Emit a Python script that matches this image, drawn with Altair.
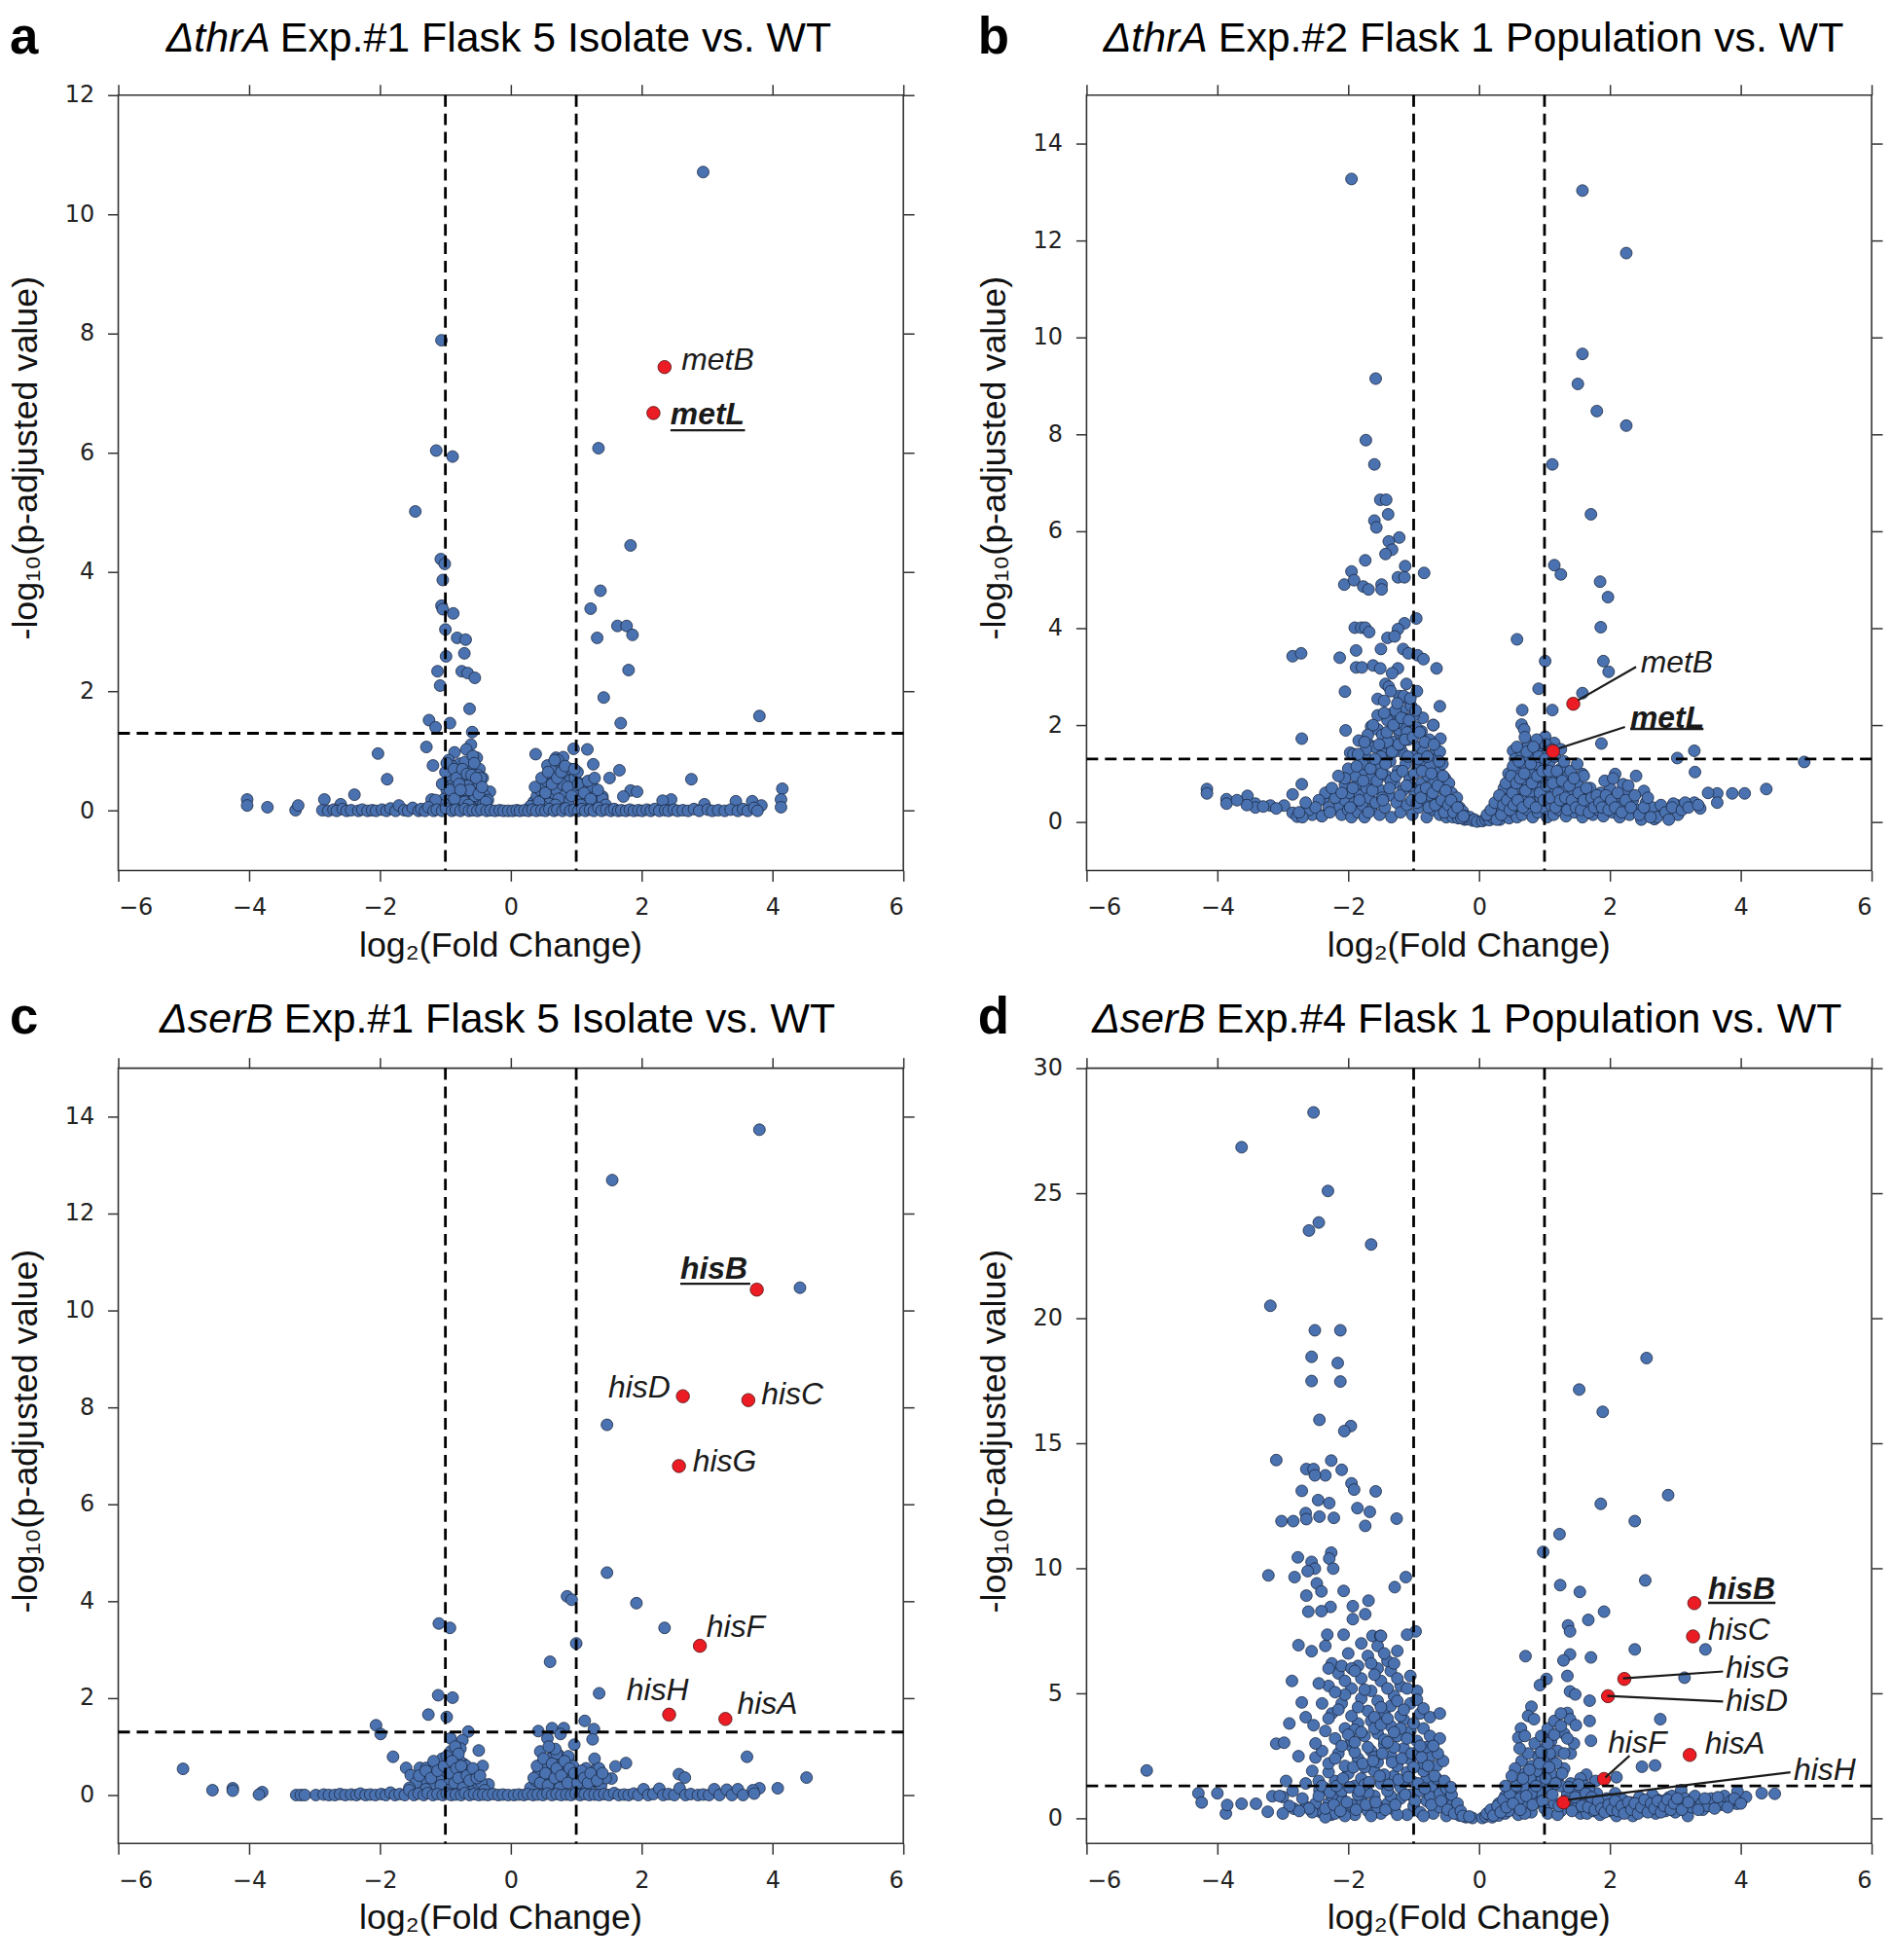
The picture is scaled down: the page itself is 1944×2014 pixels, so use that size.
import altair as alt
import pandas as pd

BLUE = "#4a72b0"
RED = "#ec1c24"
W, H = 810, 800
X_TICKS = [-6, -4, -2, 0, 2, 4, 6]

# ---------------- panel a ----------------
a_blue = [(2.94,10.71),(-1.06,7.89),(-1.14,6.04),(-0.89,5.94),(1.34,6.08),(-1.46,5.02),(1.83,4.45),(-1.07,4.22),(-1.01,4.14),(-1.04,3.87),(1.37,3.69),(-1.06,3.44),(-1.04,3.38),(1.22,3.39),(-0.88,3.31),(1.63,3.10),(1.77,3.10),(1.86,2.95),(-1.0,3.04),(-0.82,2.90),(-0.69,2.87),(1.32,2.90),(-0.99,2.59),(-0.71,2.64),(-1.12,2.34),(-0.75,2.34),(-0.66,2.31),(-0.55,2.23),(1.80,2.36),(-1.08,2.10),(1.42,1.90),(-0.63,1.71),(-1.25,1.52),(-1.15,1.40),(-0.93,1.47),(1.68,1.47),(3.80,1.59),(-0.59,1.32),(-0.61,1.11),(-1.29,1.07),(-2.03,0.96),(-0.68,1.03),(-0.86,0.98),(-0.52,0.89),(0.38,0.95),(0.96,1.04),(1.17,1.03),(0.69,0.89),(0.56,0.76),(0.76,0.72),(1.26,0.78),(-1.19,0.76),(-0.78,0.79),(-0.48,0.70),(1.66,0.68),(0.85,0.58),(0.60,0.54),(1.51,0.55),(-1.89,0.53),(2.76,0.53),(-0.43,0.55),(-0.93,0.50),(-0.73,0.60),(-0.71,0.40),(-0.57,0.45),(-0.32,0.32),(4.15,0.37),(4.13,0.19),(4.13,0.06),(-4.03,0.19),(-4.03,0.09),(-3.72,0.06),(-3.29,0.01),(-3.25,0.09),(-2.85,0.19),(-2.39,0.27),(-2.60,0.11),(3.69,0.16),(3.44,0.16),(2.45,0.19),(1.83,0.34),(1.93,0.32),(1.72,0.24),(1.33,0.28),(1.05,0.40),(1.40,0.24),(2.32,0.17),(-1.21,0.19),(2.96,0.11),(3.83,0.09)]
a_cluster = [(-0.95,0.85),(-0.9,0.75),(-0.82,0.65),(-0.78,0.6),(-0.7,0.55),(-0.62,0.5),(-0.55,0.45),(-0.5,0.38),(-0.45,0.3),(-0.4,0.25),(-0.35,0.18),(-0.88,0.5),(-0.85,0.4),(-0.8,0.3),(-0.75,0.25),(-0.68,0.2),(-0.6,0.15),(-0.52,0.1),(-0.96,0.6),(-0.98,0.35),(-1.02,0.2),(-0.92,0.12),(-0.84,0.08),(-0.72,0.35),(-0.66,0.42),(-0.58,0.3),(-0.48,0.2),(-0.42,0.12),(-0.64,0.7),(-0.7,0.82),(-0.58,0.92),(-0.56,0.8),(-1.08,0.1),(-1.15,0.18),(-0.76,0.15),(-0.9,0.25),(-0.62,0.08),(-0.55,0.25),(-0.5,0.6),(-0.46,0.55),
(0.35,0.15),(0.4,0.25),(0.45,0.35),(0.5,0.45),(0.55,0.5),(0.62,0.6),(0.68,0.7),(0.75,0.8),(0.8,0.9),(0.72,0.85),(0.85,0.6),(0.9,0.5),(0.95,0.4),(1.0,0.3),(1.05,0.25),(1.1,0.2),(1.15,0.15),(1.2,0.35),(1.25,0.4),(1.3,0.25),(0.6,0.3),(0.65,0.2),(0.7,0.35),(0.78,0.45),(0.82,0.25),(0.88,0.15),(0.52,0.2),(0.58,0.12),(0.48,0.08),(0.92,0.7),(0.98,0.55),(1.02,0.65),(0.66,0.5),(0.74,0.1),(1.08,0.45),(1.35,0.12),(1.4,0.2),(1.45,0.1),(0.3,0.08),(0.42,0.05)]
a_cluster2 = [(-1.05,0.45),(-1.0,0.65),(-0.98,0.8),(-0.93,0.35),(-0.87,0.7),(-0.83,0.55),(-0.79,0.45),(-0.74,0.7),(-0.71,0.15),(-0.67,0.62),(-0.63,0.35),(-0.6,0.6),(-0.53,0.55),(-0.49,0.28),(-0.44,0.4),(-0.38,0.15),(-0.86,0.2),(-0.77,0.35),(-0.65,0.1),
(0.37,0.4),(0.43,0.15),(0.47,0.55),(0.53,0.3),(0.57,0.65),(0.63,0.45),(0.67,0.85),(0.71,0.55),(0.77,0.65),(0.83,0.75),(0.87,0.4),(0.93,0.25),(0.97,0.7),(1.03,0.45),(1.07,0.1),(1.12,0.3),(1.18,0.5),(1.22,0.2),(1.28,0.55),(1.33,0.35),(0.73,0.2),(0.68,0.1)]
a_base = [(-2.88,0.01),(-2.79,0.0),(-2.71,0.02),(-2.66,0.0),(-2.57,0.03),(-2.51,0.0),(-2.44,0.01),(-2.33,0.0),(-2.27,0.02),(-2.19,0.0),(-2.12,0.01),(-2.06,0.0),(-1.97,0.02),(-1.9,0.0),(-1.84,0.04),(-1.76,0.0),(-1.71,0.09),(-1.63,0.01),(-1.57,0.0),(-1.5,0.05),(-1.41,0.0),(-1.37,0.03),(-1.31,0.0),(-1.26,0.06),(-1.18,0.0),(-1.13,0.02),(-1.05,0.0),(-0.99,0.04),(-0.9,0.0),(-0.84,0.02),(-0.77,0.0),(-0.7,0.03),(-0.64,0.0),(-0.58,0.01),(-0.51,0.0),(-0.45,0.02),(-0.37,0.0),(-0.31,0.01),(-0.24,0.0),(-0.17,0.01),(-0.11,0.0),(-0.04,0.0),(0.03,0.0),(0.09,0.01),(0.14,0.0),(0.21,0.01),(0.27,0.0),(0.33,0.02),(0.39,0.0),(0.47,0.01),(0.53,0.0),(0.59,0.03),(0.66,0.0),(0.71,0.02),(0.79,0.0),(0.84,0.04),(0.91,0.0),(0.97,0.02),(1.03,0.0),(1.09,0.03),(1.14,0.0),(1.21,0.02),(1.27,0.0),(1.34,0.05),(1.39,0.0),(1.46,0.02),(1.53,0.0),(1.58,0.03),(1.64,0.0),(1.69,0.01),(1.76,0.0),(1.82,0.02),(1.88,0.0),(1.95,0.01),(2.01,0.0),(2.08,0.02),(2.14,0.0),(2.2,0.03),(2.27,0.0),(2.36,0.01),(2.41,0.0),(2.49,0.02),(2.55,0.0),(2.63,0.01),(2.71,0.0),(2.8,0.03),(2.88,0.0),(3.01,0.02),(3.08,0.0),(3.17,0.01),(3.27,0.0),(3.36,0.02),(3.47,0.0),(3.55,0.03),(3.62,0.0),(3.72,0.05),(3.77,0.0)]
a_red = [(2.35,7.44),(2.18,6.67)]
a_labels = [("metB",2.61,7.56,False),("metL",2.44,6.65,True)]
a_under = [(2.44,3.58,6.38)]
a_leaders = []

# ---------------- panel b ----------------
b_blue = [(-1.95,13.27),(1.58,13.03),(2.25,11.74),(1.58,9.66),(-1.58,9.15),(1.51,9.04),(1.80,8.48),(2.25,8.18),(-1.73,7.88),(-1.60,7.38),(1.12,7.38),(-1.51,6.65),(-1.42,6.65),(-1.39,6.35),(1.71,6.35),(-1.60,6.22),(-1.57,6.08),(-1.22,5.87),(-1.38,5.79),(-1.33,5.62),(-1.43,5.53),(-1.74,5.40),(-1.13,5.28),(1.15,5.30),(-0.84,5.14),(1.25,5.11),(-1.95,5.17),(-1.24,5.05),(-1.14,5.05),(-2.06,4.90),(-1.91,4.99),(-1.49,4.90),(-1.77,4.86),(-1.69,4.80),(-1.49,4.80),(1.85,4.96),(1.97,4.64),(-0.96,4.20),(-1.14,4.10),(-1.90,4.01),(-1.80,4.01),(-1.74,4.01),(-1.68,3.92),(-1.24,3.98),(1.86,4.02),(-1.40,3.80),(-1.29,3.83),(0.58,3.77),(-2.85,3.42),(-2.72,3.48),(-2.13,3.39),(-1.88,3.54),(-1.50,3.57),(-1.16,3.57),(-1.08,3.48),(-0.94,3.44),(-0.85,3.36),(-1.88,3.19),(-1.79,3.19),(-1.62,3.23),(-1.51,3.17),(-1.24,3.17),(-1.33,3.07),(-0.65,3.17),(1.01,3.32),(1.90,3.32),(1.98,3.10),(-1.43,2.85),(-1.38,2.79),(-1.11,2.85),(0.91,2.75),(-2.05,2.69),(1.58,2.66),(-1.55,2.54),(-1.22,2.60),(-1.07,2.50),(-0.60,2.39),(0.66,2.31),(1.12,2.31),(-1.18,2.29),(-1.36,2.22),(-1.29,2.12),(-1.13,2.12),(0.65,2.01),(0.69,1.91),(-0.70,2.00),(-1.65,1.97),(-1.55,1.91),(-2.04,1.89),(-1.04,1.87),(-0.88,1.87),(-1.22,1.85),(1.01,1.76),(-0.59,1.72),(-2.71,1.72),(-1.84,1.68),(1.87,1.62),(1.15,1.63),(0.72,1.53),(-1.40,1.60),(-1.68,1.60),(-1.97,1.43),(0.52,1.47),(3.03,1.32),(3.29,1.47),(3.30,1.03),(4.97,1.24),(2.08,0.99),(2.20,0.78),(1.58,0.99),(-1.92,1.06),(-2.05,0.78),(-2.71,0.78),(-4.16,0.68),(-4.16,0.59),(-3.86,0.47),(-3.86,0.38),(-3.54,0.54),(-3.42,0.38),(-3.42,0.30),(-3.19,0.34),(-2.98,0.34),(-2.85,0.57),(-2.85,0.19),(-2.78,0.11),(-2.68,0.21),(-2.41,0.13),(-2.28,0.64),(-2.38,0.47),(-2.13,0.34),(2.52,0.64),(3.64,0.59),(3.87,0.59),(4.06,0.59),(4.39,0.68),(3.64,0.40),(3.38,0.28),(3.29,0.40),(3.04,0.34),(3.04,0.15),(2.68,0.06),(2.81,0.28),(2.97,0.38)]
b_cluster = [(-2.15,0.3),(-2.1,0.15),(-2.05,0.45),(-2.0,0.25),(-1.98,0.6),(-1.95,0.1),(-1.9,0.4),(-1.88,0.75),(-1.85,0.2),(-1.82,0.55),(-1.8,1.0),(-1.78,0.35),(-1.75,0.1),(-1.72,0.7),(-1.7,1.3),(-1.68,0.5),(-1.65,0.25),(-1.62,0.9),(-1.6,1.55),(-1.58,0.4),(-1.55,1.15),(-1.52,0.15),(-1.5,0.65),(-1.48,1.8),(-1.46,1.4),(-1.44,0.3),(-1.42,0.95),(-1.4,2.1),(-1.38,0.55),(-1.36,1.25),(-1.34,0.1),(-1.32,1.65),(-1.3,0.8),(-1.28,2.3),(-1.26,0.4),(-1.24,1.05),(-1.22,1.9),(-1.2,0.2),(-1.18,1.45),(-1.16,0.65),(-1.14,2.0),(-1.12,1.2),(-1.1,0.35),(-1.08,1.7),(-1.06,0.9),(-1.04,2.4),(-1.02,0.15),(-1.0,1.35),(-0.98,0.6),(-0.96,1.95),(-0.94,1.1),(-0.92,0.3),(-0.9,1.55),(-0.88,0.8),(-0.86,2.15),(-0.84,0.45),(-0.82,1.25),(-0.8,0.1),(-0.78,0.95),(-0.76,1.7),(-0.74,0.55),(-0.72,1.3),(-0.7,0.25),(-0.68,0.85),(-0.66,1.5),(-0.64,0.4),(-0.62,1.05),(-0.6,0.15),(-0.58,0.7),(-0.56,1.2),(-0.54,0.35),(-0.52,0.9),(-0.5,0.1),(-0.48,0.55),(-0.46,0.8),(-0.44,0.25),(-0.42,0.6),(-0.4,0.1),(-0.38,0.4),(-0.36,0.2),(-0.34,0.5),(-0.32,0.08),(-0.3,0.3),(-0.28,0.15),(-0.25,0.22),(-0.22,0.05),(-0.2,0.12),(-0.17,0.06),(-0.14,0.1),(-0.1,0.03),(-0.07,0.05),(-0.03,0.01),
(-1.55,2.2),(-1.45,2.5),(-1.35,2.7),(-1.25,2.05),(-1.15,2.6),(-1.0,2.2),(-0.95,2.7),(-1.3,1.45),(-1.7,1.8),(-1.62,2.0),(-1.48,0.5),(-1.78,1.2),(-1.9,0.95),(-2.0,1.1),(-2.2,0.5),(-2.3,0.3),(-2.35,0.6),(-2.45,0.45),(-2.25,0.7),(-1.92,1.4),(-1.2,1.6),(-1.1,1.85),(-0.75,1.15),(-0.7,2.0),(-0.6,1.45),(-0.85,1.45),(-0.9,0.65),(-1.05,0.75),(-1.35,0.85),(-1.5,1.35),(-1.65,0.9),(-1.4,1.65),
(-2.55,0.15),(-2.6,0.25),(-2.7,0.1),(-2.75,0.2),(-2.5,0.3),(-2.4,0.12),(-2.28,0.2),(-2.65,0.4),(-3.1,0.28),(-3.3,0.32),(-3.55,0.35),(-3.7,0.45),
(0.05,0.02),(0.1,0.05),(0.13,0.1),(0.16,0.04),(0.2,0.15),(0.22,0.08),(0.25,0.22),(0.28,0.12),(0.3,0.35),(0.32,0.05),(0.35,0.25),(0.38,0.45),(0.4,0.15),(0.42,0.6),(0.44,0.3),(0.46,0.08),(0.48,0.75),(0.5,0.4),(0.52,0.2),(0.54,0.9),(0.56,0.55),(0.58,0.1),(0.6,1.05),(0.62,0.35),(0.64,0.7),(0.66,0.15),(0.68,1.2),(0.7,0.5),(0.72,0.85),(0.74,0.25),(0.76,1.35),(0.78,0.6),(0.8,1.0),(0.82,0.1),(0.84,0.4),(0.86,1.5),(0.88,0.75),(0.9,0.2),(0.92,1.15),(0.94,0.5),(0.96,1.4),(0.98,0.3),(1.0,0.9),(1.02,1.6),(1.04,0.1),(1.06,0.65),(1.08,1.25),(1.1,0.35),(1.12,0.95),(1.14,0.15),(1.16,1.35),(1.18,0.55),(1.2,0.8),(1.22,0.25),(1.25,1.1),(1.28,0.45),(1.3,0.7),(1.33,0.12),(1.36,0.95),(1.4,0.35),(1.43,0.6),(1.46,0.2),(1.5,0.8),(1.54,0.4),(1.58,0.1),(1.62,0.55),(1.66,0.3),(1.7,0.7),(1.74,0.15),(1.78,0.45),
(0.55,1.3),(0.65,1.45),(0.75,1.6),(0.85,1.2),(0.95,0.7),(1.05,1.45),(1.15,0.7),(1.25,1.5),(0.45,1.0),(0.58,1.55),(0.7,1.75),(0.88,1.7),(1.3,1.25),(1.4,1.05),(1.5,1.2),(1.6,0.95),(0.38,0.7),(0.52,1.15),
(1.82,0.25),(1.86,0.6),(1.9,0.12),(1.95,0.4),(2.0,0.7),(2.04,0.2),(2.1,0.5),(2.15,0.1),(2.2,0.35),(2.25,0.6),(2.3,0.15),(2.35,0.45),(2.42,0.25),(2.48,0.05),(2.55,0.4),(2.6,0.2),(2.65,0.3),(2.72,0.1),(2.78,0.35),(2.85,0.2),(2.9,0.05),(2.95,0.3),(3.1,0.25),(3.15,0.4),(3.2,0.3),(3.35,0.35),(3.5,0.6),(1.92,0.85),(2.05,0.9),(2.28,0.75),(2.4,0.95)]
b_cluster2 = [(-2.1,0.6),(-2.05,0.9),(-1.97,0.3),(-1.93,0.7),(-1.87,1.15),(-1.83,0.45),(-1.77,0.85),(-1.73,1.5),(-1.69,0.2),(-1.66,1.1),(-1.63,0.65),(-1.59,1.3),(-1.56,0.85),(-1.53,1.6),(-1.49,1.0),(-1.47,0.45),(-1.43,1.2),(-1.41,1.85),(-1.37,0.7),(-1.33,1.45),(-1.31,2.0),(-1.27,0.95),(-1.23,1.6),(-1.21,0.55),(-1.19,2.15),(-1.17,1.05),(-1.13,1.7),(-1.11,0.75),(-1.09,1.35),(-1.07,2.1),(-1.03,0.45),(-1.01,1.75),(-0.99,1.0),(-0.97,2.3),(-0.95,0.4),(-0.93,1.3),(-0.91,1.85),(-0.89,0.5),(-0.87,1.05),(-0.83,1.65),(-0.81,0.7),(-0.79,1.35),(-0.77,0.3),(-0.73,1.0),(-0.71,0.6),(-0.69,1.6),(-0.67,0.35),(-0.63,0.75),(-0.61,1.25),(-0.57,0.45),(-0.55,0.95),(-0.53,0.2),(-0.51,0.65),(-0.47,0.35),(-0.43,0.45),(-0.39,0.2),(-0.33,0.3),(-0.27,0.08),(-0.24,0.12),(-1.45,2.25),(-1.25,2.45),(-1.05,2.55),(-1.75,1.65),(-1.85,1.4),(-2.15,0.95),
(0.12,0.15),(0.18,0.25),(0.24,0.4),(0.27,0.05),(0.31,0.55),(0.34,0.15),(0.37,0.35),(0.41,0.8),(0.43,0.45),(0.47,0.25),(0.49,0.95),(0.51,0.6),(0.53,0.35),(0.57,0.8),(0.59,0.45),(0.61,1.25),(0.63,0.9),(0.67,0.3),(0.69,1.0),(0.71,0.65),(0.73,1.45),(0.77,0.4),(0.79,1.2),(0.81,0.8),(0.83,1.55),(0.87,0.3),(0.89,0.95),(0.91,1.35),(0.93,0.6),(0.97,1.05),(0.99,0.45),(1.01,1.3),(1.03,0.75),(1.07,1.05),(1.09,0.5),(1.11,1.5),(1.13,0.8),(1.17,0.3),(1.19,1.05),(1.21,0.6),(1.24,0.45),(1.27,0.85),(1.32,0.5),(1.35,0.25),(1.38,0.75),(1.42,0.45),(1.45,0.9),(1.48,0.3),(1.52,0.6),(1.56,0.25),(1.6,0.45),(1.64,0.7),(1.68,0.2),(1.72,0.5),(1.76,0.3),(1.8,0.55),(1.84,0.4),(1.88,0.3),(1.94,0.55),(1.98,0.25),(2.02,0.45),(2.08,0.3),(2.12,0.6),(2.18,0.2),(2.24,0.45),(2.32,0.3),(2.38,0.55),(2.45,0.15),(2.52,0.3),(2.58,0.5),(2.62,0.1)]
b_red = [(1.44,2.44),(1.13,1.46)]
b_labels = [("metB",2.47,3.28,False),("metL",2.31,2.15,True)]
b_under = [(2.31,3.43,1.92)]
b_leaders = [(1.51,2.51,2.40,3.20),(1.22,1.52,2.23,1.96)]

# ---------------- panel c ----------------
c_blue = [(3.80,13.73),(1.55,12.69),(4.42,10.47),(1.47,7.64),(1.47,4.59),(0.86,4.10),(0.93,4.03),(1.92,3.96),(-1.10,3.54),(-0.93,3.45),(2.35,3.45),(1.00,3.13),(0.60,2.75),(1.35,2.10),(-1.11,2.06),(-0.89,2.01),(-1.26,1.66),(-0.98,1.61),(1.13,1.53),(-2.06,1.44),(-1.99,1.26),(0.42,1.32),(0.63,1.38),(0.81,1.38),(1.27,1.36),(-0.65,1.31),(-0.92,1.17),(0.56,1.17),(0.76,1.26),(0.97,1.04),(1.25,1.15),(-0.74,1.13),(-0.77,0.96),(-0.49,0.92),(-1.80,0.79),(0.64,0.79),(0.73,0.83),(0.88,0.76),(3.61,0.79),(1.76,0.66),(1.60,0.59),(1.31,0.54),(0.42,0.60),(-5.01,0.54),(-1.60,0.56),(-1.39,0.56),(-1.29,0.56),(-1.16,0.56),(-0.98,0.60),(-0.72,0.64),(-0.43,0.60),(4.52,0.36),(2.57,0.43),(2.66,0.36),(4.08,0.14),(3.80,0.14),(-4.56,0.10),(-4.25,0.14),(-4.25,0.09),(-3.80,0.06),(-3.85,0.01),(-3.28,0.0),(-3.21,0.0),(-1.53,0.41),(-1.30,0.28),(-1.07,0.41),(-0.57,0.34),(-0.34,0.22),(0.49,0.41),(1.04,0.34),(1.54,0.34),(1.31,0.28)]
c_cluster = [(-1.35,0.3),(-1.25,0.45),(-1.2,0.2),(-1.15,0.6),(-1.1,0.35),(-1.05,0.75),(-1.0,0.5),(-0.95,0.25),(-0.92,0.9),(-0.88,0.6),(-0.85,0.4),(-0.82,0.15),(-0.78,0.7),(-0.75,0.5),(-0.72,0.3),(-0.68,0.6),(-0.65,0.2),(-0.6,0.45),(-0.55,0.3),(-0.5,0.15),(-0.45,0.25),(-0.4,0.1),(-0.97,0.1),(-1.3,0.12),(-0.62,0.08),(-0.85,1.0),(-0.8,0.85),(-0.7,0.35),(-1.45,0.25),(-1.55,0.15),
(0.3,0.15),(0.38,0.3),(0.42,0.45),(0.48,0.2),(0.52,0.6),(0.55,0.35),(0.6,0.75),(0.62,0.1),(0.65,0.5),(0.7,0.85),(0.72,0.3),(0.78,0.6),(0.8,0.2),(0.85,0.45),(0.88,0.8),(0.92,0.3),(0.95,0.6),(1.0,0.15),(1.05,0.4),(1.1,0.25),(1.15,0.55),(1.2,0.1),(1.25,0.3),(1.3,0.45),(1.38,0.2),(1.45,0.35),(0.45,0.9),(0.68,0.95),(0.58,1.0),(1.28,0.75),(1.35,0.55)]
c_cluster2 = [(-1.4,0.4),(-1.3,0.5),(-1.22,0.35),(-1.18,0.7),(-1.12,0.5),(-1.07,0.2),(-1.02,0.6),(-0.98,0.8),(-0.93,0.45),(-0.9,0.7),(-0.86,0.25),(-0.83,0.55),(-0.8,0.35),(-0.76,0.6),(-0.73,0.15),(-0.67,0.4),(-0.63,0.3),(-0.58,0.55),(-0.52,0.35),(-0.47,0.4),
(0.35,0.35),(0.4,0.6),(0.45,0.25),(0.5,0.75),(0.53,0.45),(0.57,0.2),(0.63,0.65),(0.67,0.35),(0.7,0.55),(0.75,0.15),(0.77,0.4),(0.82,0.7),(0.87,0.25),(0.9,0.55),(0.97,0.45),(1.02,0.25),(1.08,0.5),(1.12,0.35),(1.18,0.25),(1.22,0.45),(1.32,0.3),(1.4,0.45)]
c_base = [(-3.15,0.0),(-2.98,0.0),(-2.86,0.01),(-2.78,0.0),(-2.69,0.0),(-2.61,0.02),(-2.53,0.0),(-2.44,0.01),(-2.36,0.0),(-2.3,0.03),(-2.22,0.0),(-2.15,0.01),(-2.07,0.0),(-1.98,0.02),(-1.91,0.0),(-1.84,0.05),(-1.77,0.0),(-1.7,0.02),(-1.62,0.0),(-1.55,0.1),(-1.48,0.0),(-1.41,0.03),(-1.33,0.0),(-1.27,0.04),(-1.19,0.0),(-1.12,0.02),(-1.04,0.0),(-0.98,0.03),(-0.91,0.0),(-0.84,0.01),(-0.76,0.0),(-0.7,0.04),(-0.63,0.0),(-0.56,0.02),(-0.49,0.0),(-0.42,0.01),(-0.35,0.0),(-0.27,0.02),(-0.19,0.0),(-0.12,0.01),(-0.04,0.0),(0.05,0.0),(0.12,0.01),(0.2,0.0),(0.26,0.02),(0.34,0.0),(0.41,0.01),(0.49,0.0),(0.56,0.03),(0.63,0.0),(0.7,0.02),(0.77,0.0),(0.85,0.01),(0.92,0.0),(0.99,0.03),(1.06,0.0),(1.13,0.02),(1.2,0.0),(1.28,0.01),(1.35,0.0),(1.43,0.02),(1.5,0.0),(1.58,0.04),(1.65,0.0),(1.73,0.01),(1.8,0.0),(1.88,0.03),(1.95,0.0),(2.03,0.12),(2.1,0.0),(2.18,0.02),(2.27,0.13),(2.33,0.0),(2.41,0.02),(2.5,0.0),(2.58,0.14),(2.67,0.0),(2.75,0.02),(2.86,0.0),(2.94,0.01),(3.03,0.0),(3.11,0.12),(3.19,0.0),(3.3,0.11),(3.38,0.0),(3.47,0.12),(3.55,0.0),(3.7,0.1),(3.72,0.03)]
c_red = [(3.76,10.43),(2.63,8.23),(3.63,8.15),(2.57,6.79),(2.89,3.08),(2.42,1.66),(3.28,1.57)]
c_labels = [("hisB",2.59,10.85,True),("hisD",1.49,8.41,False),("hisC",3.83,8.27,False),("hisG",2.78,6.87,False),("hisF",2.99,3.46,False),("hisH",1.77,2.15,False),("hisA",3.46,1.87,False)]
c_under = [(2.59,3.66,10.55)]
c_leaders = []

# ---------------- panel d ----------------
d_blue = [(-2.53,28.23),(-3.63,26.84),(-2.31,25.09),(-2.45,23.83),(-2.60,23.51),(-1.65,22.95),(-3.19,20.50),(-2.51,19.52),(-2.12,19.52),(2.56,18.41),(-2.56,18.46),(-2.16,18.21),(-2.56,17.49),(-2.12,17.47),(1.53,17.15),(1.89,16.26),(-2.44,15.94),(-1.96,15.69),(-2.06,15.49),(-3.10,14.33),(-2.26,14.31),(-2.64,13.97),(-2.53,13.97),(-2.10,13.94),(-2.35,13.72),(-2.51,13.72),(-1.95,13.40),(-1.91,13.15),(-1.58,13.08),(-2.71,13.10),(2.89,12.93),(-2.46,12.73),(-2.29,12.61),(1.86,12.58),(-1.86,12.41),(-1.67,12.26),(-2.65,12.21),(-2.44,12.07),(-2.22,12.02),(-2.64,11.97),(-3.02,11.89),(-2.84,11.89),(-1.26,11.99),(2.38,11.89),(-1.74,11.70),(1.23,11.37),(0.98,10.66),(-2.26,10.63),(-2.77,10.44),(-2.29,10.39),(-2.56,10.26),(-2.51,9.99),(-2.23,9.99),(-2.62,9.89),(-3.22,9.72),(-2.82,9.65),(-1.12,9.65),(2.54,9.52),(1.24,9.33),(-2.48,9.40),(-1.29,9.25),(1.54,9.06),(-2.41,9.08),(-2.07,9.10),(-2.64,8.91),(-1.69,8.71),(-2.27,8.46),(-1.93,8.49),(1.91,8.27),(-2.41,8.29),(-2.61,8.27),(-1.74,8.17),(1.67,7.94),(-1.93,7.97),(1.36,7.72),(1.39,7.48),(-0.97,7.48),(-1.10,7.35),(-1.63,7.30),(-1.51,7.30),(-2.32,7.35),(-2.07,7.35),(-2.76,6.93),(-2.56,6.69),(2.38,6.76),(3.46,6.76),(0.71,6.49),(1.39,6.56),(1.71,6.44),(1.29,6.32),(3.14,5.63),(1.35,5.70),(1.03,5.58),(0.93,5.33),(1.39,5.08),(1.47,4.96),(1.69,4.71),(2.77,3.97),(1.35,4.22),(1.39,3.97),(1.48,3.73),(1.71,3.11),(1.69,3.90),(0.80,4.47),(0.75,4.10),(0.64,3.60),(0.84,3.97),(1.07,3.43),(0.60,3.23),(2.49,2.07),(2.69,2.12),(2.10,1.65),(1.64,1.75),(4.52,0.99),(4.32,1.01),(4.08,0.86),(3.95,1.09),(3.78,0.76),(3.94,0.59),(3.62,0.76),(3.42,0.69),(3.42,0.35),(3.19,0.10),(3.09,1.13),(2.90,0.84),(2.72,0.76),(2.68,0.27),(2.45,0.44),(2.32,0.64),(2.08,1.01),(-5.08,1.92),(-4.29,1.01),(-4.24,0.64),(-4.00,1.01),(-3.87,0.20),(-3.85,0.54),(-3.63,0.59),(-3.41,0.59),(-3.23,0.27),(-3.16,0.89),(-3.00,0.86),(-2.83,0.39),(-2.65,0.47),(-3.10,2.99),(-2.98,3.03),(-2.90,3.80),(-2.71,4.64),(-2.65,4.05),(-2.86,5.50),(-2.53,3.73),(-2.76,2.49),(-2.50,2.44),(-2.44,1.13),(-2.43,0.27),(-2.26,0.15)]
d_cluster = [(-2.4,0.3),(-2.3,0.6),(-2.2,0.2),(-2.1,0.8),(-2.0,0.4),(-1.9,0.15),(-1.8,0.7),(-1.7,0.3),(-1.6,0.9),(-1.5,0.2),(-1.4,0.6),(-1.3,0.35),(-1.2,0.8),(-1.1,0.15),(-1.0,0.5),(-0.9,0.25),(-0.8,0.7),(-0.7,0.2),(-0.6,0.45),(-0.5,0.1),(-0.4,0.3),(-0.3,0.12),(-0.2,0.05),(-0.1,0.02),(-2.25,0.9),(-1.95,0.55),(-1.65,0.1),(-1.35,0.9),(-1.05,0.95),(-0.75,0.9),(-0.45,0.6),(-0.35,0.45),(-0.55,0.8),(-0.85,0.1),(-1.25,0.15),(-1.55,0.45),(-1.85,0.95),(-2.05,0.1),(-2.35,0.05),(-2.5,0.6),(-2.55,0.25),
(-2.35,1.2),(-2.2,1.5),(-2.1,1.1),(-2.0,1.8),(-1.9,1.3),(-1.8,1.6),(-1.7,1.05),(-1.6,1.9),(-1.5,1.4),(-1.4,1.1),(-1.3,1.7),(-1.2,1.25),(-1.1,1.85),(-1.0,1.45),(-0.9,1.1),(-0.8,1.6),(-0.7,1.3),(-0.6,1.0),(-0.5,1.2),(-0.42,0.95),(-1.75,1.35),(-1.45,1.75),(-1.15,1.5),(-0.85,1.9),(-0.65,1.6),(-2.45,1.5),(-2.3,1.85),
(-2.3,2.2),(-2.15,2.6),(-2.05,2.1),(-1.95,2.9),(-1.85,2.4),(-1.75,2.05),(-1.65,2.7),(-1.55,2.25),(-1.45,2.95),(-1.35,2.5),(-1.25,2.1),(-1.15,2.8),(-1.05,2.35),(-0.95,2.65),(-0.85,2.2),(-0.75,2.5),(-0.65,2.1),(-0.55,2.3),(-1.9,2.65),(-1.6,2.45),(-1.3,2.85),(-1.0,2.05),(-0.8,2.85),(-2.4,2.7),
(-2.2,3.2),(-2.05,3.6),(-1.95,3.1),(-1.85,3.8),(-1.75,3.3),(-1.65,3.9),(-1.55,3.4),(-1.45,3.15),(-1.35,3.7),(-1.25,3.3),(-1.15,3.95),(-1.05,3.5),(-0.95,3.1),(-0.85,3.6),(-0.75,3.3),(-0.6,3.2),(-1.9,3.55),(-1.4,3.05),(-1.2,3.6),(-2.35,3.5),(-2.5,3.0),
(-2.25,4.2),(-2.1,4.6),(-1.95,4.1),(-1.8,4.8),(-1.7,4.3),(-1.55,4.7),(-1.45,4.2),(-1.35,4.5),(-1.2,4.1),(-1.05,4.6),(-0.9,4.2),(-0.75,4.05),(-1.6,4.05),(-1.3,4.9),(-2.4,4.6),(-0.6,4.2),
(-2.3,5.3),(-2.15,5.8),(-1.95,5.2),(-1.8,5.6),(-1.65,5.1),(-1.5,5.5),(-1.35,5.9),(-1.2,5.3),(-1.05,5.7),(-0.95,5.1),(-2.05,5.5),(-1.55,6.0),(-2.45,5.4),(-1.1,5.2),
(-2.25,6.2),(-2.0,6.6),(-1.85,6.1),(-1.7,6.5),(-1.55,6.9),(-1.4,6.3),(-1.25,6.7),(-2.1,6.1),(-1.8,7.0),(-1.5,7.3),(-2.35,6.9),(-1.3,6.2),(-1.95,6.0),
(-2.6,0.4),(-2.7,0.8),(-2.75,0.3),(-2.85,1.1),(-2.9,0.5),(-3.0,0.2),(-2.65,1.4),(-2.55,1.9),(-2.95,1.5),(-3.05,0.9),
(0.05,0.02),(0.1,0.08),(0.15,0.15),(0.2,0.05),(0.25,0.3),(0.3,0.12),(0.35,0.5),(0.4,0.2),(0.45,0.7),(0.5,0.35),(0.55,0.9),(0.6,0.15),(0.65,1.1),(0.7,0.5),(0.75,1.4),(0.8,0.25),(0.85,1.7),(0.9,0.8),(0.95,2.0),(1.0,0.4),(1.05,1.2),(1.1,2.3),(1.15,0.6),(1.2,1.6),(1.25,0.3),(1.3,2.0),(1.35,0.9),(1.4,1.4),(1.45,0.5),(1.5,1.1),(1.55,0.2),(1.6,0.8),
(0.4,0.9),(0.5,1.2),(0.6,1.5),(0.7,1.8),(0.8,2.1),(0.9,2.5),(1.0,2.8),(1.1,3.1),(1.2,2.7),(0.65,2.3),(0.75,2.6),(0.85,3.0),(0.95,3.3),(1.05,3.6),(1.15,3.9),(1.25,4.2),(0.55,2.0),(1.3,3.4),(1.4,2.6),(1.45,3.0),(1.35,1.0),(1.25,1.3),(0.95,1.5),(1.05,0.2),(0.9,1.1),(0.7,0.2),(0.85,0.6),(1.2,0.15),(1.5,0.45),(1.55,1.6),(1.62,1.3),(0.3,0.6),(0.45,0.3),(0.58,0.6),(0.8,1.0),(1.1,1.8),(1.18,2.2),(1.08,2.6),(0.98,2.3),(0.88,1.9),(0.78,1.6),(0.68,1.3),(0.62,0.8),
(1.65,0.2),(1.7,0.6),(1.75,0.3),(1.8,1.0),(1.85,0.15),(1.9,0.5),(1.95,0.8),(2.0,0.3),(2.05,0.6),(2.1,0.1),(2.15,0.45),(2.2,0.75),(2.25,0.25),(2.3,0.5),(2.35,0.1),(2.4,0.4),(2.5,0.6),(2.55,0.3),(2.6,0.5),(2.7,0.2),(2.75,0.45),(2.8,0.7),(2.85,0.3),(2.9,0.5),(3.0,0.25),(3.05,0.5),(3.15,0.8),(3.25,0.45),(3.3,0.9),(3.4,0.6),(3.5,0.5),(3.55,0.8),(3.7,0.55),(3.75,0.9),(3.85,0.7),(1.78,1.5),(1.68,1.2),(2.45,0.85),(2.65,0.95),(2.95,0.9)]
d_cluster2 = [(-2.45,0.9),(-2.4,1.3),(-2.35,0.4),(-2.28,1.05),(-2.22,0.55),(-2.18,1.3),(-2.12,0.3),(-2.08,1.6),(-2.02,0.65),(-1.98,1.25),(-1.92,2.05),(-1.88,0.35),(-1.83,1.1),(-1.78,2.2),(-1.73,0.55),(-1.68,1.45),(-1.62,2.3),(-1.58,0.65),(-1.52,1.7),(-1.48,2.6),(-1.43,0.35),(-1.38,1.35),(-1.33,2.25),(-1.28,0.55),(-1.23,1.55),(-1.18,2.4),(-1.13,0.95),(-1.08,1.65),(-1.03,2.6),(-0.98,0.7),(-0.93,1.4),(-0.88,2.45),(-0.83,1.2),(-0.78,2.1),(-0.73,0.55),(-0.68,1.7),(-0.63,2.6),(-0.58,0.7),(-0.53,1.5),(-0.48,0.35),(-0.43,1.25),(-0.38,0.2),(-0.33,0.6),(-0.28,0.3),(-0.25,0.1),(-0.15,0.08),(-2.2,2.4),(-2.1,2.9),(-2.0,3.35),(-1.9,3.05),(-1.8,3.45),(-1.7,2.85),(-1.6,3.6),(-1.5,3.75),(-1.4,4.0),(-1.3,3.45),(-1.1,3.2),(-1.0,3.8),(-0.9,2.9),(-0.7,2.9),(-2.3,4.0),(-2.15,4.35),(-1.85,4.45),(-1.5,4.45),(-1.25,4.7),(-1.15,4.35),(-0.95,4.75),(-0.85,4.4),(-2.05,4.95),(-1.75,5.15),(-1.4,5.2),(-1.25,5.6),(-2.2,5.05),(-1.9,5.9),(-1.6,5.75),(-2.3,6.0),(-1.45,6.6),(-1.65,6.2),
(0.12,0.2),(0.18,0.35),(0.22,0.12),(0.28,0.5),(0.33,0.25),(0.37,0.75),(0.42,0.45),(0.47,1.0),(0.52,0.6),(0.57,1.3),(0.63,0.35),(0.67,1.6),(0.72,0.9),(0.77,1.95),(0.82,0.55),(0.87,1.3),(0.92,2.2),(0.97,0.7),(1.02,1.6),(1.07,2.05),(1.12,0.95),(1.17,1.4),(1.22,0.5),(1.27,1.8),(1.32,0.7),(1.37,1.25),(1.42,0.3),(1.47,0.85),(1.52,1.35),(1.57,0.5),(1.63,1.0),(1.67,0.45),(1.72,0.85),(1.77,0.35),(1.82,0.7),(1.87,0.4),(1.92,0.25),(1.98,0.55),(2.03,0.35),(2.08,0.7),(2.12,0.3),(2.18,0.5),(2.22,0.2),(2.28,0.65),(2.33,0.35),(2.38,0.6),(2.43,0.2),(2.48,0.45),(2.53,0.75),(2.58,0.25),(2.63,0.6),(2.68,0.4),(2.73,0.7),(2.78,0.25),(2.83,0.5),(2.88,0.75),(2.93,0.35),(2.98,0.6),(3.03,0.8),(3.1,0.35),(3.2,0.65),(3.35,0.35),(3.45,0.8),(3.6,0.4),(3.65,0.85),(3.8,0.45),(3.9,0.8),(4.0,0.6),(0.95,2.65),(1.05,3.0),(1.15,3.35),(1.25,3.7),(1.3,2.6),(1.35,3.2),(0.7,3.3),(0.62,2.8),(0.5,1.7),(0.4,1.3)]
d_red = [(3.29,8.61),(3.27,7.28),(2.22,5.58),(1.97,4.89),(1.91,1.58),(3.22,2.54),(1.29,0.64)]
d_labels = [("hisB",3.50,9.15,True),("hisC",3.50,7.55,False),("hisG",3.77,6.0,False),("hisD",3.77,4.71,False),("hisF",1.97,3.03,False),("hisA",3.45,2.99,False),("hisH",4.81,1.92,False)]
d_under = [(3.50,4.53,8.62)]
d_leaders = [(2.20,5.60,3.73,5.88),(1.96,4.90,3.73,4.68),(1.93,1.64,2.30,2.51),(1.36,0.75,4.76,1.85)]

THRESH_X = [-1, 1]
THRESH_Y = [1.3]

FONT = "Liberation Sans"


def panel(blue, red, labels, unders, leaders, ydom, yvals, gene, rest,
          split_r, split_l, title_base, letter, letter_base):
    xs = alt.Scale(domain=[-6, 6], nice=False, zero=False)
    ys = alt.Scale(domain=ydom, nice=False, zero=False)

    bdf = pd.DataFrame(blue, columns=["fc", "p"])
    rdf = pd.DataFrame(red, columns=["fc", "p"])

    pts = alt.Chart(bdf).mark_circle(
        size=145, fill=BLUE, stroke="#1b2740", strokeWidth=0.8, opacity=1
    ).encode(
        x=alt.X("fc:Q", scale=xs, axis=alt.Axis(
            values=X_TICKS, orient="bottom", title="log₂(Fold Change)",
            labelPadding=15, titleY=88, titleX=round(0.487 * W),
            titleBaseline="alphabetic")),
        y=alt.Y("p:Q", scale=ys, axis=alt.Axis(
            values=yvals, orient="left", title="-log₁₀(p-adjusted value)",
            labelPadding=14, titleX=-76, titleY=round(0.467 * H),
            titleBaseline="bottom")),
    )
    reds = alt.Chart(rdf).mark_circle(
        size=185, fill=RED, stroke="#4a1010", strokeWidth=0.8, opacity=1
    ).encode(
        x=alt.X("fc:Q", scale=xs, axis=alt.Axis(
            values=X_TICKS, orient="top", labels=False, title=None)),
        y=alt.Y("p:Q", scale=ys, axis=alt.Axis(
            values=yvals, orient="right", labels=False, title=None)),
    )
    vr = alt.Chart(pd.DataFrame({"v": THRESH_X})).mark_rule(
        color="black", strokeWidth=2.8, strokeDash=[12, 7]
    ).encode(x=alt.X("v:Q", scale=xs, axis=None))
    hr = alt.Chart(pd.DataFrame({"h": THRESH_Y})).mark_rule(
        color="black", strokeWidth=2.8, strokeDash=[12, 7]
    ).encode(y=alt.Y("h:Q", scale=ys, axis=None))

    layers = [pts, reds, vr, hr]

    if leaders:
        ldf = pd.DataFrame(leaders, columns=["x1", "y1", "x2", "y2"])
        layers.append(alt.Chart(ldf).mark_rule(color="#1a1a1a", strokeWidth=2.2).encode(
            x=alt.X("x1:Q", scale=xs, axis=None), y=alt.Y("y1:Q", scale=ys, axis=None),
            x2="x2:Q", y2="y2:Q"))
    udf = pd.DataFrame(unders, columns=["x1", "x2", "y"])
    layers.append(alt.Chart(udf).mark_rule(color="#1a1a1a", strokeWidth=2.4).encode(
        x=alt.X("x1:Q", scale=xs, axis=None), x2="x2:Q",
        y=alt.Y("y:Q", scale=ys, axis=None)))

    labdf = pd.DataFrame(labels, columns=["t", "x", "y", "bold"])
    for is_bold in (False, True):
        sub = labdf[labdf["bold"] == is_bold][["t", "x", "y"]]
        if len(sub):
            layers.append(alt.Chart(sub).mark_text(
                font=FONT, fontSize=32, fontStyle="italic",
                fontWeight="bold" if is_bold else "normal",
                align="left", baseline="middle", color="#1a1a1a"
            ).encode(x=alt.X("x:Q", scale=xs, axis=None),
                     y=alt.Y("y:Q", scale=ys, axis=None), text="t:N"))

    layers.append(alt.Chart(pd.DataFrame({"t": [gene]})).mark_text(
        font=FONT, fontSize=43, fontStyle="italic", align="right",
        baseline="alphabetic", color="black"
    ).encode(x=alt.value(split_r), y=alt.value(title_base), text="t:N"))
    layers.append(alt.Chart(pd.DataFrame({"t": [rest]})).mark_text(
        font=FONT, fontSize=43, align="left", baseline="alphabetic", color="black"
    ).encode(x=alt.value(split_l), y=alt.value(title_base), text="t:N"))
    layers.append(alt.Chart(pd.DataFrame({"t": [letter]})).mark_text(
        font=FONT, fontSize=53, fontWeight="bold", align="left",
        baseline="alphabetic", color="black"
    ).encode(x=alt.value(-112), y=alt.value(letter_base), text="t:N"))

    return alt.layer(*layers).resolve_axis(x="independent", y="independent").properties(
        width=W, height=H)


pa = panel(a_blue + a_cluster + a_cluster2 + a_base, a_red, a_labels, a_under, a_leaders,
           [-1, 12], [0, 2, 4, 6, 8, 10, 12], "ΔthrA", "Exp.#1 Flask 5 Isolate vs. WT",
           157, 167, -45, "a", -43)
pb = panel(b_blue + b_cluster + b_cluster2, b_red, b_labels, b_under, b_leaders,
           [-1, 15], [0, 2, 4, 6, 8, 10, 12, 14], "ΔthrA", "Exp.#2 Flask 1 Population vs. WT",
           125, 136, -45, "b", -43)
pc = panel(c_blue + c_cluster + c_cluster2 + c_base, c_red, c_labels, c_under, c_leaders,
           [-1, 15], [0, 2, 4, 6, 8, 10, 12, 14], "ΔserB", "Exp.#1 Flask 5 Isolate vs. WT",
           160, 171, -37, "c", -36)
pd_ = panel(d_blue + d_cluster + d_cluster2, d_red, d_labels, d_under, d_leaders,
            [-1, 30], [0, 5, 10, 15, 20, 25, 30], "ΔserB", "Exp.#4 Flask 1 Population vs. WT",
            123, 134, -37, "d", -36)

chart = alt.concat(pa, pb, pc, pd_, columns=2, bounds="flush",
                   spacing={"row": 204, "column": 189}).properties(
    padding={"top": 0, "left": 0, "right": 0, "bottom": 0}
).configure_view(
    stroke="#333333", strokeWidth=1.6
).configure_axis(
    grid=False, domain=False, ticks=True, tickColor="#333333", tickWidth=1.5,
    tickSize=11, labelFont="DejaVu Sans", labelFontSize=24, labelColor="#222222",
    titleFont=FONT, titleFontSize=36, titleFontWeight="normal", titleColor="#111111"
)

chart.save("out.html", embed_options={"renderer": "svg", "actions": False})
